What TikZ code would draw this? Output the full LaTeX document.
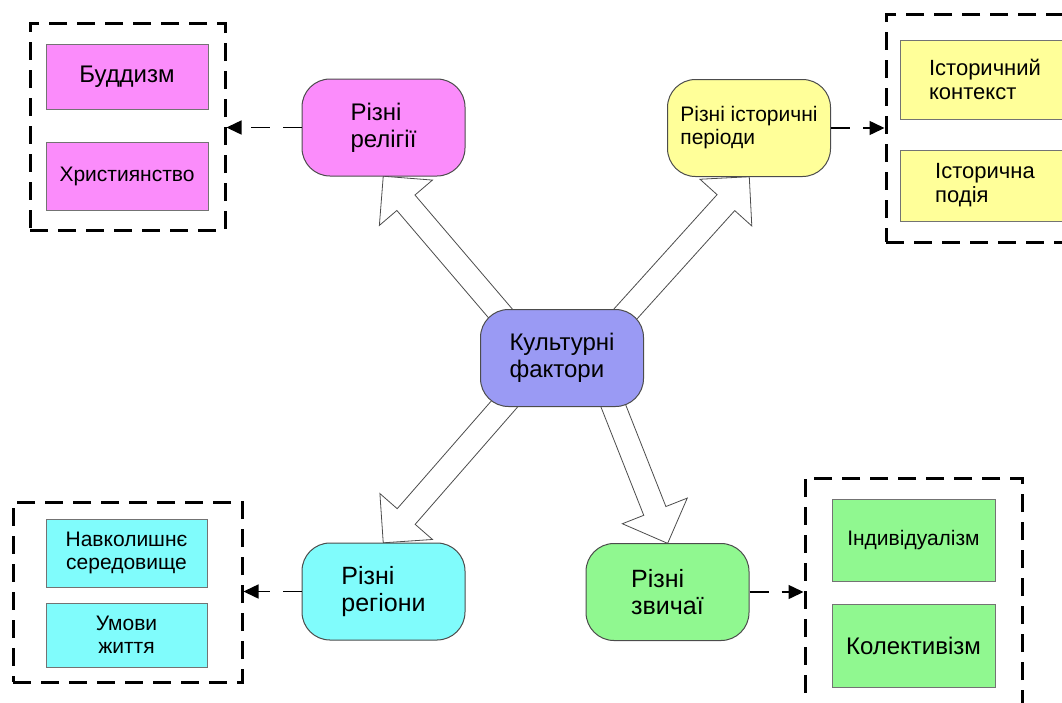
\documentclass[tikz,border=0pt]{standalone}
\usepackage{fontspec}
\setmainfont{Liberation Sans}
\usetikzlibrary{arrows.meta, shapes.arrows, calc, backgrounds}
\definecolor{relfill}{HTML}{FB8CFB}
\definecolor{perfill}{HTML}{FFFF99}
\definecolor{regfill}{HTML}{80FCFC}
\definecolor{cusfill}{HTML}{90F890}
\definecolor{culfill}{HTML}{9A9AF4}
\tikzset{
    factor/.style = {draw=black!70, line width=1pt, rounded corners=28pt, align=left,
        inner sep=0pt, minimum width=163pt, minimum height=97pt},
    item/.style = {draw=black!55, line width=1pt, align=center, inner sep=0pt},
    group/.style = {draw, line width=3pt, dash pattern=on 18pt off 10pt},
    link/.style = {line width=1.5pt, dash pattern=on 19pt off 13pt,
        -{Triangle[length=15pt, width=14pt]}},
    bigarrow/.style = {single arrow, draw=black!70, fill=white, line width=0.8pt,
        inner sep=11.5pt, single arrow head extend=23pt, single arrow tip angle=90},
    huge/.style = {font=\fontsize{25}{27}\selectfont},
    big/.style = {font=\fontsize{24}{27}\selectfont},
    mid/.style = {font=\fontsize{22}{24}\selectfont},
    small/.style = {font=\fontsize{21}{23}\selectfont}
}
\begin{document}
\begin{tikzpicture}[x=1pt, y=-1pt]
    \useasboundingbox (0,0) rectangle (1062,702);
    \clip (0,0) rectangle (1062,702);
    % factors
    \node[factor, big, fill=culfill] (cul) at (562,358) {Культурні\\фактори};
    \node[factor, big, fill=relfill] (rel) at (383.5,127.5) {Різні\\релігії};
    \node[factor, small, fill=perfill] (per) at (749,128) {Різні історичні\\періоди};
    \node[factor, huge, fill=regfill] (reg) at (383.5,591.5) {Різні\\регіони};
    \node[factor, huge, fill=cusfill] (cus) at (667.5,592) {Різні\\звичаї};
    % items
    \node[item, big, fill=relfill, minimum width=162pt, minimum height=65pt] (bud) at (127,76.5) {Буддизм};
    \node[item, small, fill=relfill, minimum width=162pt, minimum height=68pt] (chr) at (127,176) {Християнство};
    \node[item, mid, fill=perfill, minimum width=170pt, minimum height=79pt, align=left] (ctx) at (985,79.5) {Історичний\\контекст};
    \node[item, mid, fill=perfill, minimum width=170pt, minimum height=71pt, align=left] (evt) at (985,185.5) {Історична\\подія};
    \node[item, small, fill=regfill, minimum width=161pt, minimum height=68pt] (env) at (126.5,553) {Навколишнє\\середовище};
    \node[item, small, fill=regfill, minimum width=161pt, minimum height=64pt] (liv) at (126.5,635) {Умови\\життя};
    \node[item, small, fill=cusfill, minimum width=163pt, minimum height=82pt] (ind) at (913.5,540) {Індивідуалізм};
    \node[item, big, fill=cusfill, minimum width=163pt, minimum height=83pt] (col) at (913.5,645.5) {Колективізм};
    % groups
    \node[group, minimum width=195pt, minimum height=207pt] (g1) at (127.5,126.5) {};
    \node[group, minimum width=199pt, minimum height=228pt] (g2) at (985.5,128) {};
    \node[group, minimum width=229pt, minimum height=180pt] (g3) at (127.5,592) {};
    \node[group, minimum width=217pt, minimum height=237pt] (g4) at (913.5,596.5) {};
    \draw[link] (rel.west) -- (rel.west -| g1.east);
    \draw[link] (per.east) -- (per.east -| g2.west);
    \draw[link] (reg.west) -- (reg.west -| g3.east);
    \draw[link] (cus.east) -- (cus.east -| g4.west);
    % hollow arrows
    \coordinate (t1) at (532.5,351);
    \coordinate (t2) at (601.5,340.5);
    \coordinate (t3) at (528,377);
    \coordinate (t4) at (594,357);
    \begin{scope}[on background layer]
        \foreach \a/\b in {t1/rel.south, t2/per.south, t3/reg.north, t4/cus.north}
            \path let \p1 = (\a), \p2 = (\b), \n1 = {atan2(\y2-\y1,\x2-\x1)},
                \n2 = {veclen(\x2-\x1,\y2-\y1)} in
                node[bigarrow, minimum height=\n2, rotate=\n1, anchor=tail] at (\p1) {};
    \end{scope}
\end{tikzpicture}
\end{document}
